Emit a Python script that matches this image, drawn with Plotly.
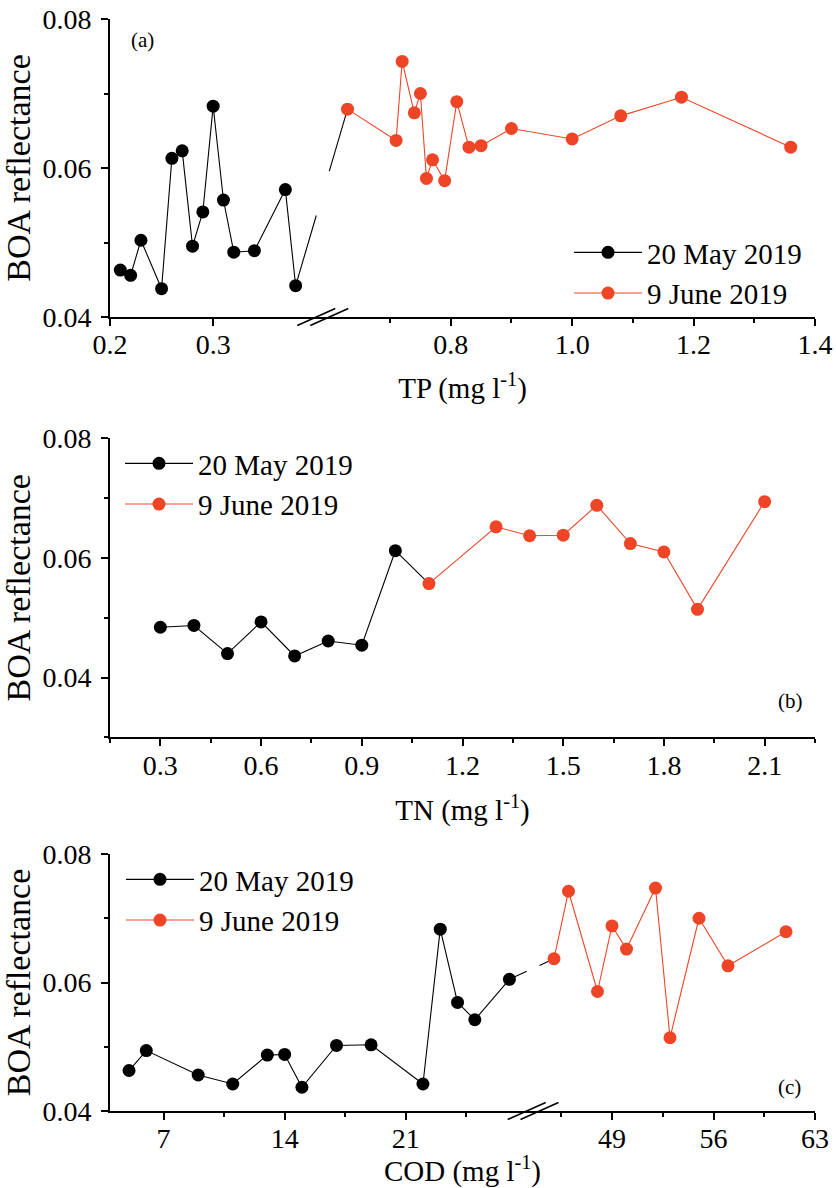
import plotly.graph_objects as go

# ---------------- data ----------------
# Panel (a): TP
tp_may = [0.21, 0.22, 0.23, 0.25, 0.26, 0.27, 0.28, 0.29, 0.30, 0.31, 0.32, 0.34, 0.37, 0.38]
boa_tp_may = [0.0463, 0.0456, 0.0503, 0.0438, 0.0613, 0.0623, 0.0495, 0.0541, 0.0683,
              0.0557, 0.0487, 0.0489, 0.0571, 0.0442]
tp_june = [0.63, 0.71, 0.72, 0.74, 0.75, 0.76, 0.77, 0.79, 0.81, 0.83, 0.85, 0.90,
           1.00, 1.08, 1.18, 1.36]
boa_tp_june = [0.0679, 0.0637, 0.0743, 0.0674, 0.0700, 0.0586, 0.0611, 0.0583, 0.0689,
               0.0628, 0.0630, 0.0653, 0.0639, 0.0670, 0.0695, 0.0628]
tp_major = [0.2, 0.3, 0.8, 1.0, 1.2, 1.4]
tp_major_text = ["0.2", "0.3", "0.8", "1.0", "1.2", "1.4"]
tp_minor = [0.7, 0.9, 1.1, 1.3]

# Panel (b): TN
tn_may = [0.3, 0.4, 0.5, 0.6, 0.7, 0.8, 0.9, 1.0]
boa_tn_may = [0.0484, 0.0487, 0.0440, 0.0493, 0.0436, 0.0461, 0.0454, 0.0612]
tn_june = [1.1, 1.3, 1.4, 1.5, 1.6, 1.7, 1.8, 1.9, 2.1]
boa_tn_june = [0.0557, 0.0652, 0.0637, 0.0638, 0.0688, 0.0624, 0.0610, 0.0514, 0.0694]

# Panel (c): COD
cod_may = [5, 6, 9, 11, 13, 14, 15, 17, 19, 22, 23, 24, 25, 27]
boa_cod_may = [0.0463, 0.0494, 0.0456, 0.0442, 0.0487, 0.0488, 0.0437, 0.0502, 0.0503,
               0.0442, 0.0683, 0.0569, 0.0542, 0.0605]
cod_june = [45, 46, 48, 49, 50, 52, 53, 55, 57, 61]
boa_cod_june = [0.0637, 0.0742, 0.0586, 0.0688, 0.0652, 0.0747, 0.0514, 0.0700, 0.0626, 0.0679]
cod_major = [7, 14, 21, 49, 56, 63]
cod_major_text = ["7", "14", "21", "49", "56", "63"]
cod_minor = [10.5, 17.5, 24.5, 45.5, 52.5, 59.5]

labels = ["20 May 2019", "9 June 2019"]

# ---------------- style ----------------
FONT = "Liberation Serif"
BLACK = "#000000"
RED = "#EF4527"
MS = 13


def break_map(lo1, hi1, lo2, hi2, f1, fg):
    """Piecewise scale for a broken axis, mapping to [0, 1]."""
    def m(v):
        if v <= hi1:
            return (v - lo1) / (hi1 - lo1) * f1
        return f1 + fg + (v - lo2) / (hi2 - lo2) * (1 - f1 - fg)
    return m


def bridge(m, x1, y1, x2, y2, uL, uR):
    u1, u2 = m(x1), m(x2)
    yL = y1 + (y2 - y1) * (uL - u1) / (u2 - u1)
    yR = y1 + (y2 - y1) * (uR - u1) / (u2 - u1)
    return [u1, uL, None, uR, u2], [y1, yL, None, yR, y2]


# broken-axis scales
A_F1, A_FG = 206 / 704, 13 / 704
map_a = break_map(0.2, 0.4, 0.6, 1.4, A_F1, A_FG)
C_F1, C_FG = 416.7 / 705, 12.8 / 705
map_c = break_map(3.9, 28, 44, 63, C_F1, C_FG)

fig = go.Figure()


def add_series(xs, ys, color, name, xa, ya, leg, showleg=True):
    fig.add_trace(go.Scatter(
        x=xs, y=ys, mode="lines+markers", name=name,
        line=dict(color=color, width=1.1),
        marker=dict(color=color, size=MS, line=dict(width=0)),
        xaxis=xa, yaxis=ya, legend=leg, showlegend=showleg))


# ---- panel (a)
bx, by = bridge(map_a, tp_may[-1], boa_tp_may[-1], tp_june[0], boa_tp_june[0], A_F1, A_F1 + A_FG)
fig.add_trace(go.Scatter(x=bx, y=by, mode="lines", line=dict(color=BLACK, width=1.1),
                         xaxis="x", yaxis="y", showlegend=False, hoverinfo="skip"))
add_series([map_a(v) for v in tp_may], boa_tp_may, BLACK, labels[0], "x", "y", "legend")
add_series([map_a(v) for v in tp_june], boa_tp_june, RED, labels[1], "x", "y", "legend")

# ---- panel (b)
fig.add_trace(go.Scatter(x=[tn_may[-1], tn_june[0]], y=[boa_tn_may[-1], boa_tn_june[0]],
                         mode="lines", line=dict(color=BLACK, width=1.1),
                         xaxis="x2", yaxis="y2", showlegend=False, hoverinfo="skip"))
add_series(tn_may, boa_tn_may, BLACK, labels[0], "x2", "y2", "legend2")
add_series(tn_june, boa_tn_june, RED, labels[1], "x2", "y2", "legend2")

# ---- panel (c)
cx, cy = bridge(map_c, cod_may[-1], boa_cod_may[-1], cod_june[0], boa_cod_june[0], C_F1, C_F1 + C_FG)
fig.add_trace(go.Scatter(x=cx, y=cy, mode="lines", line=dict(color=BLACK, width=1.1),
                         xaxis="x3", yaxis="y3", showlegend=False, hoverinfo="skip"))
add_series([map_c(v) for v in cod_may], boa_cod_may, BLACK, labels[0], "x3", "y3", "legend3")
add_series([map_c(v) for v in cod_june], boa_cod_june, RED, labels[1], "x3", "y3", "legend3")

W, H = 836, 1188
XDOM = [110 / W, 815 / W]


def ydom(top_px, bot_px):
    return [(H - bot_px) / H, (H - top_px) / H]


axis_common = dict(
    showline=True, linecolor=BLACK, linewidth=1.6, mirror=False,
    ticks="outside", ticklen=7, tickwidth=1.6, tickcolor=BLACK,
    showgrid=False, zeroline=False, automargin=False,
    tickfont=dict(family=FONT, size=28, color=BLACK),
)
minor_common = dict(ticks="outside", ticklen=4, tickwidth=1.6, tickcolor=BLACK, showgrid=False)

ytitle = dict(text="BOA reflectance", font=dict(family=FONT, size=34, color=BLACK), standoff=10)


def yaxis(dom, rng, anchor):
    return dict(axis_common, domain=dom, range=rng, anchor=anchor,
                tickmode="linear", tick0=0.04, dtick=0.02, tickformat=".2f",
                minor=dict(minor_common, tickmode="linear", tick0=0.03, dtick=0.01),
                title=ytitle, ticklabelstandoff=4)


def xtitle(txt, standoff):
    return dict(text=txt, font=dict(family=FONT, size=29, color=BLACK), standoff=standoff)


LEG_W = 68
legend_common = dict(xanchor="left", yanchor="top", itemwidth=LEG_W,
                     font=dict(family=FONT, size=29, color=BLACK), bgcolor="rgba(0,0,0,0)")

fig.update_layout(
    template="none",
    width=W, height=H,
    margin=dict(l=0, r=0, t=0, b=0, pad=0),
    paper_bgcolor="white", plot_bgcolor="white",
    font=dict(family=FONT, color=BLACK),
    xaxis=dict(axis_common, domain=XDOM, range=[0, 1], anchor="y", ticklabelstandoff=-5,
               tickmode="array", tickvals=[map_a(v) for v in tp_major], ticktext=tp_major_text,
               minor=dict(minor_common, tickmode="array", tickvals=[map_a(v) for v in tp_minor]),
               title=xtitle("TP (mg l<sup>-1</sup>)", 18)),
    yaxis=yaxis(ydom(19, 317), [0.04, 0.08], "x"),
    xaxis2=dict(axis_common, domain=XDOM, range=[0.15, 2.25], anchor="y2", ticklabelstandoff=-5,
                tickmode="linear", tick0=0.3, dtick=0.3, tickformat=".1f",
                minor=dict(minor_common, tickmode="linear", tick0=0.15, dtick=0.15),
                title=xtitle("TN (mg l<sup>-1</sup>)", 20)),
    yaxis2=yaxis(ydom(438.3, 737.3), [0.03, 0.08], "x2"),
    xaxis3=dict(axis_common, domain=XDOM, range=[0, 1], anchor="y3", ticklabelstandoff=-5,
                tickmode="array", tickvals=[map_c(v) for v in cod_major], ticktext=cod_major_text,
                minor=dict(minor_common, tickmode="array", tickvals=[map_c(v) for v in cod_minor]),
                title=xtitle("COD (mg l<sup>-1</sup>)", 13)),
    yaxis3=yaxis(ydom(854, 1111), [0.04, 0.08], "x3"),
    legend=dict(legend_common, x=(647 - 10 - LEG_W) / W, y=(H - 227) / H),
    legend2=dict(legend_common, x=(198 - 10 - LEG_W) / W, y=(H - 438) / H),
    legend3=dict(legend_common, x=(199 - 10 - LEG_W) / W, y=(H - 854) / H),
    showlegend=True,
)

# panel labels
for txt, xr, yr, xpos, ypos in [("(a)", "x domain", "y domain", (142 - 110) / 705, (317 - 40) / 298),
                                ("(b)", "x2 domain", "y2 domain", (790 - 110) / 705, (737.3 - 701) / 299),
                                ("(c)", "x3 domain", "y3 domain", (789 - 110) / 705, (1111 - 1087) / 257)]:
    fig.add_annotation(text=txt, xref=xr, yref=yr, x=xpos, y=ypos, showarrow=False,
                       xanchor="center", yanchor="middle",
                       font=dict(family=FONT, size=21, color=BLACK))

# axis-break marks (two parallel slashes at each break edge)
for xr, yr, edges in [("x domain", "y domain", [A_F1, A_F1 + A_FG]),
                      ("x3 domain", "y3 domain", [C_F1, C_F1 + C_FG])]:
    for e in edges:
        fig.add_shape(type="line", xref=xr, yref=yr, xsizemode="pixel", ysizemode="pixel",
                      xanchor=e, yanchor=0, x0=-19, x1=19, y0=-8.5, y1=8.5,
                      line=dict(color=BLACK, width=1.6), layer="above")

fig.write_html("out.html")
